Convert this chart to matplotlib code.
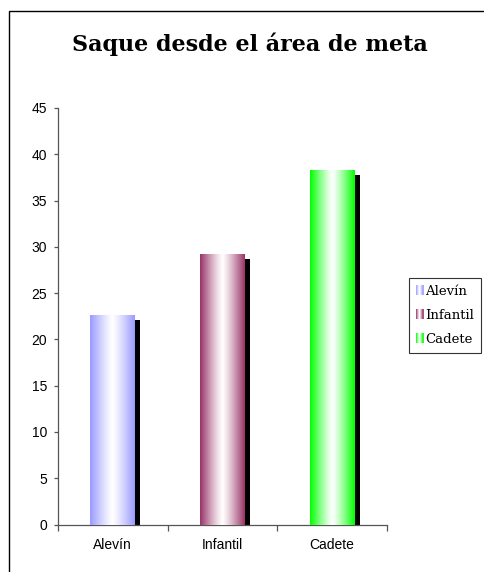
import numpy as np
import matplotlib
matplotlib.use("Agg")
import matplotlib.pyplot as plt
from matplotlib.patches import Rectangle
from matplotlib.legend_handler import HandlerBase
import matplotlib.patheffects as pe
from matplotlib.colors import to_rgb

categories = ["Alevín", "Infantil", "Cadete"]
values = [22.6, 29.2, 38.3]
colors = ["#9999FF", "#993366", "#00FF00"]
title = "Saque desde el área de meta"
yticks = [0, 5, 10, 15, 20, 25, 30, 35, 40, 45]

W, H = 485, 572
fig = plt.figure(figsize=(W / 100, H / 100), dpi=100)

# outer chart frame (runs off the right and bottom edges)
fig.patches.append(Rectangle((9 / W, -0.1), 1.2, 1 - 11 / H + 0.1,
                             transform=fig.transFigure, fill=False,
                             edgecolor="black", linewidth=1.0))

ax = fig.add_axes([58 / W, 1 - 524.5 / H, (387 - 58) / W, (524.5 - 108) / H])


def gradient(edge, n=200):
    c = np.array(to_rgb(edge))
    t = np.abs(np.linspace(-1, 1, n)) ** 1.2
    row = (1 - t)[:, None] * np.ones(3) + t[:, None] * c
    return row[None, :, :]


x = np.arange(len(categories))
width = 0.41
bars = ax.bar(x, values, width=width, color="black", zorder=2)
for b, col in zip(bars, colors):
    b.set_path_effects([pe.SimplePatchShadow(offset=(3.6, -3.6),
                                             shadow_rgbFace="black", alpha=1.0),
                        pe.Normal()])
    x0, y0 = b.get_x(), b.get_y()
    im = ax.imshow(gradient(col), extent=(x0, x0 + b.get_width(), y0, y0 + b.get_height()),
                   aspect="auto", zorder=3, interpolation="bilinear")
    im.set_clip_path(b)
ax.set_xlim(-0.5, 2.5)
ax.set_ylim(0, 45)

for s in ["top", "right"]:
    ax.spines[s].set_visible(False)
for s in ["left", "bottom"]:
    ax.spines[s].set_color("#555555")
    ax.spines[s].set_linewidth(0.9)

ax.set_yticks(yticks)
ax.tick_params(axis="y", length=3, width=0.9, color="#555555", pad=5, labelsize=10)
ax.set_xticks([-0.5, 0.5, 1.5, 2.5])
ax.set_xticklabels([])
ax.set_xticks(x, minor=True)
ax.set_xticklabels(categories, minor=True)
ax.tick_params(axis="x", which="major", length=4, width=0.9, color="#555555")
ax.tick_params(axis="x", which="minor", length=0, pad=10, labelsize=10)
for lbl in ax.get_xticklabels(minor=True) + ax.get_yticklabels():
    lbl.set_fontfamily("Liberation Sans")

fig.text(250 / W, 1 - 51 / H, title, ha="center", va="baseline",
         fontsize=16, fontweight="bold", family="DejaVu Serif")


class GradientHandler(HandlerBase):
    def create_artists(self, legend, orig_handle, xdescent, ydescent,
                       width, height, fontsize, trans):
        edge = np.array(to_rgb(orig_handle.get_facecolor()))
        n = 7
        w = width / n
        arts = []
        for i in range(n):
            t = abs((i + 0.5) / n * 2 - 1) ** 1.2
            c = (1 - t) * np.ones(3) + t * edge
            arts.append(Rectangle((-xdescent + i * w, -ydescent), w, height,
                                  facecolor=c, edgecolor="none", transform=trans))
        return arts


handles = [Rectangle((0, 0), 1, 1, facecolor=c) for c in colors]
leg = fig.legend(handles, categories, loc="upper left",
                 bbox_to_anchor=(409 / W, 1 - 278 / H),
                 handler_map={Rectangle: GradientHandler()},
                 prop={"family": "DejaVu Serif", "size": 9.5},
                 frameon=True, fancybox=False, handlelength=0.6, handleheight=0.8,
                 handletextpad=0.15, labelspacing=0.85, borderpad=0.5,
                 borderaxespad=0)
leg.get_frame().set_edgecolor("black")
leg.get_frame().set_linewidth(0.8)

fig.savefig("out.png", dpi=100)
